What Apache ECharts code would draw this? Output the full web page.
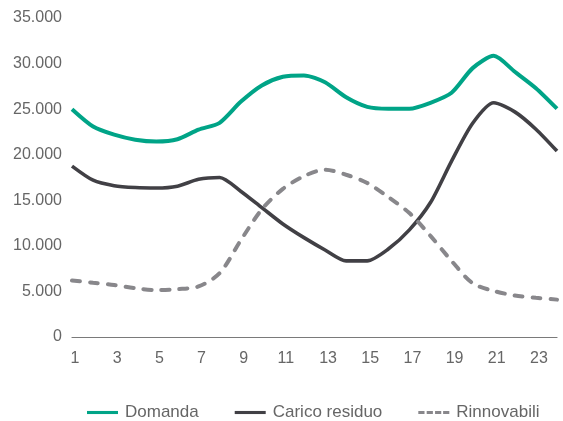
<!DOCTYPE html>
<html>
<head>
<meta charset="utf-8">
<script src="https://cdn.jsdelivr.net/npm/echarts@6/dist/echarts.min.js"></script>
<style>
html,body{margin:0;padding:0;background:#fff;}
#chart{width:563px;height:421px;}
</style>
</head>
<body>
<div id="chart"></div>
<script>
const hours = ['1','2','3','4','5','6','7','8','9','10','11','12','13','14','15','16','17','18','19','20','21','22','23','24'];
const domanda = [25000,23100,22200,21650,21450,21700,22750,23500,25800,27600,28550,28700,27950,26300,25250,25050,25050,25700,26800,29500,30850,29100,27300,25050];
const caricoResiduo = [18750,17200,16600,16400,16350,16550,17300,17500,16000,14200,12400,10900,9550,8350,8350,9650,11750,14750,19300,23450,25700,24700,22800,20400];
const rinnovabili = [6200,5950,5700,5350,5150,5250,5550,7000,10600,14000,16250,17650,18350,17800,16900,15350,13600,11100,8350,5900,5050,4550,4300,4100];
const yTicks = {min:0, max:35000, interval:5000};

const FONT = 'Liberation Sans';
const chart = echarts.init(document.getElementById('chart'), null, {renderer:'canvas'});
chart.setOption({
  animation:false,
  grid:{left:72, right:6, top:18, bottom:84},
  legend:{
    left:82, top:399, itemWidth:31, itemHeight:14, itemGap:36,
    textStyle:{fontFamily:FONT, fontSize:17, color:'#666', padding:[0,0,0,2]},
    data:[
      {name:'Domanda', icon:'path://M0,0L10,0L10,1L0,1Z', itemStyle:{color:'#00a487'}},
      {name:'Carico residuo', icon:'path://M0,0L10,0L10,1L0,1Z', itemStyle:{color:'#414045'}},
      {name:'Rinnovabili', icon:'path://M0,0L2,0L2,1L0,1ZM2.7,0L4.7,0L4.7,1L2.7,1ZM5.4,0L7.4,0L7.4,1L5.4,1ZM8,0L10,0L10,1L8,1Z', itemStyle:{color:'#88878b'}}
    ]
  },
  xAxis:{
    type:'category', data:hours, boundaryGap:false,
    axisLine:{show:true, lineStyle:{color:'#7a7a7a', width:1.2}},
    axisTick:{show:false},
    axisLabel:{interval:1, fontFamily:FONT, fontSize:16, color:'#666', margin:14, padding:[0,0,0,6]}
  },
  yAxis:{
    type:'value', min:yTicks.min, max:yTicks.max, interval:yTicks.interval,
    axisLine:{show:false}, axisTick:{show:false}, splitLine:{show:false},
    axisLabel:{fontFamily:FONT, fontSize:16, color:'#666', margin:10,
      formatter:v => v.toString().replace(/\B(?=(\d{3})+(?!\d))/g,'.')}
  },
  series:[
    {name:'Domanda', type:'line', data:domanda, symbol:'none', smooth:0.25,
     lineStyle:{color:'#00a487', width:4}, itemStyle:{color:'#00a487'}},
    {name:'Carico residuo', type:'line', data:caricoResiduo, symbol:'none', smooth:0.25,
     lineStyle:{color:'#414045', width:3.6}, itemStyle:{color:'#414045'}},
    {name:'Rinnovabili', type:'line', data:rinnovabili, symbol:'none', smooth:0.3,
     lineStyle:{color:'#88878b', width:4, type:[8,10], cap:'round'}, itemStyle:{color:'#88878b'}}
  ]
});
</script>
</body>
</html>
